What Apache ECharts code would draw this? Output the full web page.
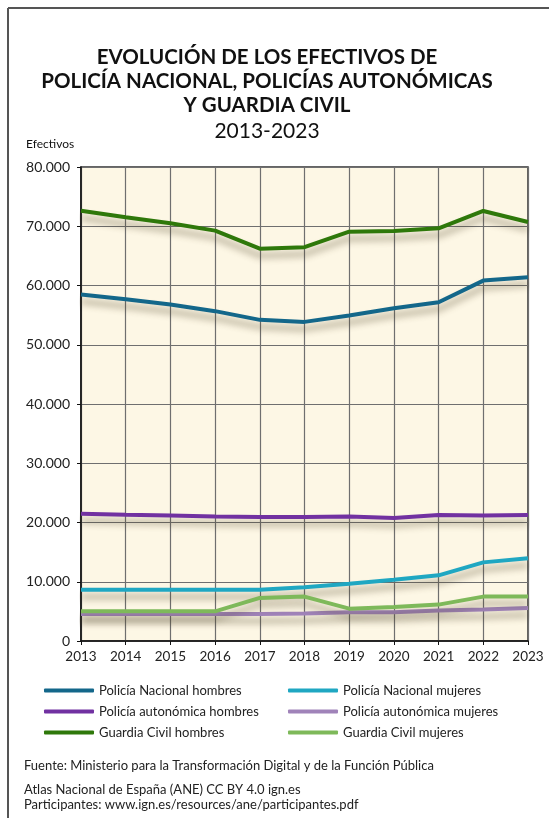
<!DOCTYPE html>
<html><head><meta charset="utf-8">
<script src="https://cdn.jsdelivr.net/npm/echarts@6/dist/echarts.min.js"></script>
<style>html,body{margin:0;padding:0;background:#fff}#c{width:549px;height:818px}</style>
</head><body><div id="c"></div>
<script>
const years = ['2013','2014','2015','2016','2017','2018','2019','2020','2021','2022','2023'];
const pnHombres = [58470,57690,56780,55670,54200,53860,54930,56170,57180,60830,61400];
const pnMujeres = [8670,8670,8670,8670,8670,9060,9680,10350,11080,13270,13950];
const paHombres = [21480,21310,21200,21030,20930,20930,21030,20760,21260,21200,21260];
const paMujeres = [4570,4570,4570,4570,4570,4630,4840,4840,5130,5300,5580];
const gcHombres = [72630,71520,70500,69260,66220,66460,69090,69200,69660,72580,70720];
const gcMujeres = [5010,5010,5010,5010,7270,7490,5460,5750,6140,7490,7490];

const names = ['Policía Nacional hombres','Policía Nacional mujeres','Policía autonómica hombres','Policía autonómica mujeres','Guardia Civil hombres','Guardia Civil mujeres'];
const colors = ['#13678a','#1fa7c2','#7131a1','#a083b9','#2e780a','#7eb95a'];
const datas = [pnHombres,pnMujeres,paHombres,paMujeres,gcHombres,gcMujeres];

const FONT = 'Lato';
const chart = echarts.init(document.getElementById('c'));
const series = names.map((n,i)=>({
  name:n, type:'line', data:datas[i], symbol:'none', smooth:false,
  lineStyle:{color:colors[i], width:4, shadowColor:'rgba(70,60,30,0.45)', shadowBlur:7, shadowOffsetY:7},
  itemStyle:{color:colors[i]}
}));
const legendBase = {orient:'vertical', icon:'roundRect', itemWidth:50, itemHeight:4, itemGap:6, padding:0,
  textStyle:{fontFamily:FONT, fontSize:13, color:'#222', lineHeight:15}};
chart.setOption({
  animation:false,
  backgroundColor:'#fff',
  title:[
    {text:'EVOLUCIÓN DE LOS EFECTIVOS DE\nPOLICÍA NACIONAL, POLICÍAS AUTONÓMICAS\nY GUARDIA CIVIL', left:267, top:45, textAlign:'center', padding:0,
     textStyle:{fontFamily:FONT, fontWeight:'bold', fontSize:20.5, lineHeight:24, color:'#111'}},
    {text:'2013-2023', left:267, top:121, textAlign:'center', padding:0, textStyle:{fontFamily:FONT, fontWeight:'normal', fontSize:21, color:'#111'}},
    {text:'Efectivos', left:26, top:138, padding:0, textStyle:{fontFamily:FONT, fontWeight:'normal', fontSize:12, color:'#111'}}
  ],
  legend:[
    Object.assign({}, legendBase, {left:44, top:683, data:[names[0],names[2],names[4]]}),
    Object.assign({}, legendBase, {left:288, top:683, data:[names[1],names[3],names[5]]})
  ],
  grid:{left:81, right:21, top:167, bottom:177, show:true, backgroundColor:'#fdf7e5', borderColor:'#333', borderWidth:1.5},
  xAxis:{type:'category', data:years, boundaryGap:false,
    axisLine:{lineStyle:{color:'#111', width:1.5}},
    axisTick:{show:true, length:4, lineStyle:{color:'#111'}},
    axisLabel:{fontFamily:FONT, fontSize:13.5, color:'#222', margin:9},
    splitLine:{show:true, lineStyle:{color:'#6f6f6f', width:1.2}}},
  yAxis:{type:'value', min:0, max:80000, interval:10000,
    axisLine:{show:true, lineStyle:{color:'#111', width:1.5}},
    axisTick:{show:true, length:4, lineStyle:{color:'#111'}},
    axisLabel:{fontFamily:FONT, fontSize:14, color:'#222', margin:11,
      formatter:v=>v===0?'0':String(v).replace(/\B(?=(\d{3})+(?!\d))/g,'.')},
    splitLine:{show:true, lineStyle:{color:'#6f6f6f', width:1.2}}},
  series:series,
  graphic:[
    {type:'line', shape:{x1:8, y1:8, x2:549, y2:8}, style:{stroke:'#555', lineWidth:2}},
    {type:'line', shape:{x1:8, y1:8, x2:8, y2:818}, style:{stroke:'#555', lineWidth:2}},
    {type:'text', left:24, top:759, style:{text:'Fuente: Ministerio para la Transformación Digital y de la Función Pública', font:'13px Lato', fill:'#222'}},
    {type:'text', left:24, top:783, style:{text:'Atlas Nacional de España (ANE) CC BY 4.0 ign.es', font:'13px Lato', fill:'#222'}},
    {type:'text', left:24, top:798, style:{text:'Participantes: www.ign.es/resources/ane/participantes.pdf', font:'13px Lato', fill:'#222'}}
  ]
});
</script></body></html>
